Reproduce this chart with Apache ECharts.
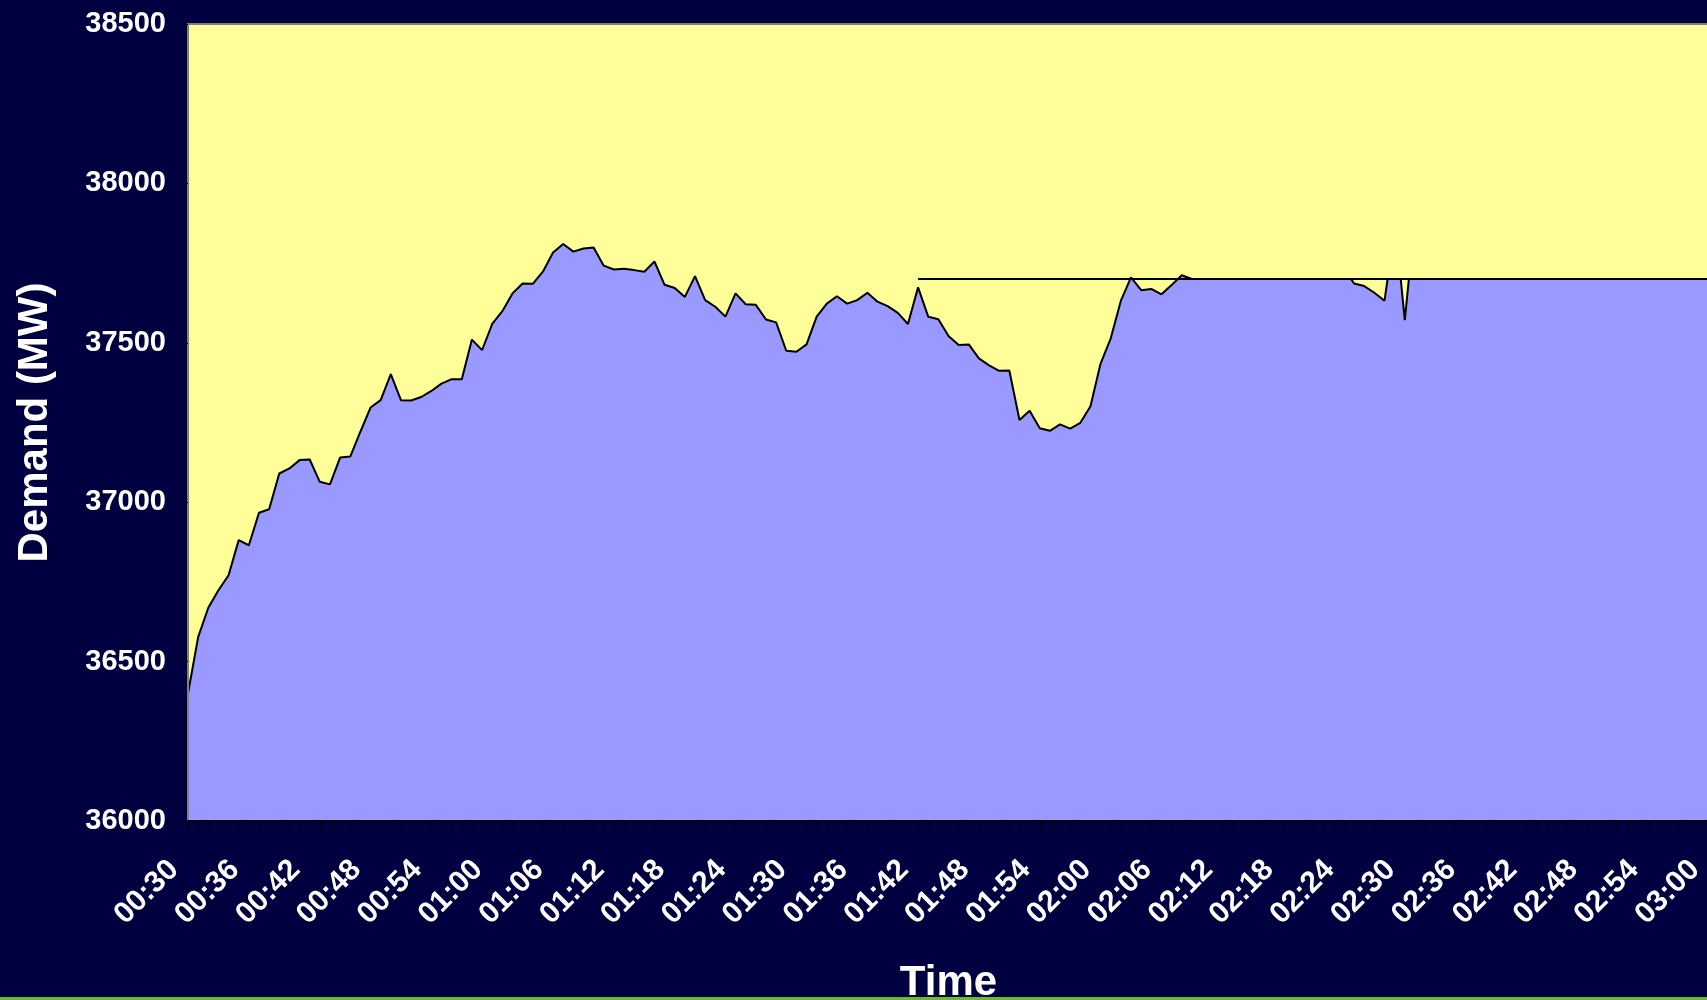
<!DOCTYPE html>
<html>
<head>
<meta charset="utf-8">
<script src="https://cdn.jsdelivr.net/npm/echarts@6/dist/echarts.min.js"></script>
<style>
  html, body { margin: 0; padding: 0; background: #000040; }
  #chart { width: 1707px; height: 1000px; }
</style>
</head>
<body>
<div id="chart"></div>
<script>
// Demand (MW) at one-minute steps, starting 00:30 (minute 30 after midnight)
const startMinute = 30;
const demandPerMinute = [
  36400, 36577, 36669, 36724, 36771, 36881, 36865, 36967, 36978, 37090,
  37106, 37132, 37134, 37064, 37056, 37140, 37143, 37221, 37297, 37320,
  37402, 37320, 37319, 37330, 37349, 37372, 37386, 37386, 37510, 37477,
  37559, 37599, 37655, 37686, 37685, 37723, 37783, 37810, 37786, 37796,
  37799, 37742, 37730, 37732, 37728, 37723, 37755, 37682, 37672, 37644,
  37709, 37634, 37613, 37582, 37655, 37621, 37619, 37573, 37564, 37475,
  37472, 37495, 37582, 37623, 37646, 37623, 37634, 37657, 37629, 37615,
  37594, 37559, 37674, 37582, 37574, 37521, 37493, 37495, 37451, 37429,
  37412, 37413, 37258, 37287, 37232, 37224, 37244, 37231, 37249, 37301,
  37435, 37514, 37632, 37705, 37665, 37669, 37652, 37681, 37712
];
// Later demand points (minutes after midnight, MW)
const lateMinutes = [129, 144.7, 145, 146, 147, 148, 148.3, 149.6, 150, 150.4, 180];
const lateDemand  = [37700, 37700, 37686, 37678, 37657, 37632, 37700, 37700, 37571, 37700, 37700];
// Reference level line
const capMinutes = [102, 180];
const capValues  = [37700, 37700];
// Axis settings
const xMin = 30, xMax = 180, xLabelStep = 6;
const yMin = 36000, yMax = 38500, yStep = 500;

function hhmm(m) {
  const h = Math.floor(m / 60), mm = Math.round(m % 60);
  return String(h).padStart(2, '0') + ':' + String(mm).padStart(2, '0');
}

const demandData = demandPerMinute.map((v, i) => [startMinute + i, v])
  .concat(lateMinutes.map((m, i) => [m, lateDemand[i]]));
const capData = capMinutes.map((m, i) => [m, capValues[i]]);

const FONT = '"Liberation Sans", Arial, sans-serif';
const chart = echarts.init(document.getElementById('chart'));
chart.setOption({
  backgroundColor: '#000040',
  animation: false,
  grid: {
    left: 188, top: 24, right: -2, bottom: 179,
    containLabel: false, outerBoundsMode: 'none',
    show: true, backgroundColor: '#FFFF99', borderColor: '#808080', borderWidth: 2
  },
  xAxis: {
    type: 'value', min: xMin, max: xMax, interval: xLabelStep,
    name: 'Time', nameLocation: 'middle', nameGap: 141,
    nameTextStyle: { color: '#fff', fontSize: 42, fontWeight: 'bold', fontFamily: FONT },
    z: 5,
    axisLine: { show: true, lineStyle: { color: '#000', width: 2 } },
    axisTick: { show: true, length: 10, lineStyle: { color: '#000', width: 1 } },
    minorTick: { show: true, splitNumber: 6, length: 10, lineStyle: { color: '#000', width: 1 } },
    splitLine: { show: false },
    axisLabel: {
      rotate: 45, margin: 30, padding: [0, 20, 0, 0],
      color: '#fff', fontSize: 30, fontWeight: 'bold', fontFamily: FONT,
      showMinLabel: true, showMaxLabel: true,
      formatter: v => hhmm(v)
    }
  },
  yAxis: {
    type: 'value', min: yMin, max: yMax, interval: yStep,
    name: 'Demand (MW)', nameLocation: 'middle', nameGap: 132,
    nameTextStyle: { color: '#fff', fontSize: 42, fontWeight: 'bold', fontFamily: FONT },
    z: 5,
    axisLine: { show: true, lineStyle: { color: '#808080', width: 2 } },
    axisTick: { show: true, length: 8, lineStyle: { color: '#000', width: 1 } },
    splitLine: { show: false },
    axisLabel: {
      margin: 22, color: '#fff', fontSize: 29, fontWeight: 'bold', fontFamily: FONT,
      formatter: v => String(v)
    }
  },
  series: [
    {
      type: 'line', data: demandData, symbol: 'none', z: 2,
      lineStyle: { color: '#000', width: 2 },
      areaStyle: { color: '#9999FF', opacity: 1, origin: 'start' }
    },
    {
      type: 'line', data: capData, symbol: 'none', z: 3,
      lineStyle: { color: '#000', width: 2 }
    }
  ],
  graphic: [
    { type: 'rect', left: 0, bottom: 0, shape: { width: 1707, height: 3 }, style: { fill: '#66BB33' }, z: 10 }
  ]
});
</script>
</body>
</html>
